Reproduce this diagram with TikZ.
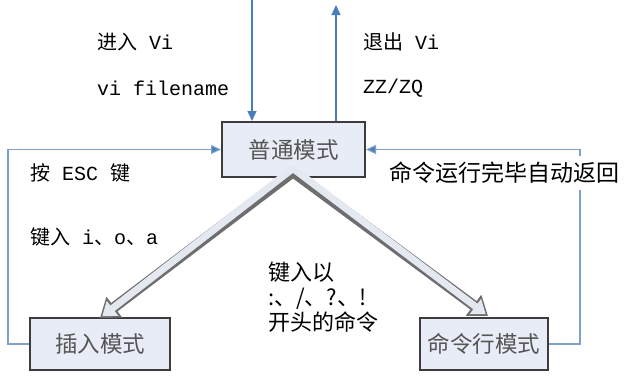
\documentclass[tikz,border=0pt]{standalone}
\usepackage{fontspec}
\setmainfont{Liberation Mono}
\newfontfamily\cjk{Noto Sans CJK SC}
\usetikzlibrary{arrows.meta}
\definecolor{boxfill}{HTML}{E8ECF6}
\definecolor{boxline}{HTML}{3C3C3C}
\definecolor{boxtext}{HTML}{555555}
\definecolor{linkblue}{HTML}{4A7EBB}
\definecolor{loopblue}{HTML}{7F9FCF}
\definecolor{dbout}{HTML}{6E6E6E}
\definecolor{dbin}{HTML}{E4E8F0}
\begin{document}
\begin{tikzpicture}[x=1pt,y=-1pt,
  modebox/.style={draw=boxline, line width=2pt, fill=boxfill, text=boxtext,
    font=\cjk\fontsize{22.5}{26}\selectfont, inner sep=0pt},
  lbl/.style={anchor=west, inner sep=0pt, font=\fontsize{20}{24}\selectfont},
  loopline/.style={draw=loopblue, line width=1.1pt, -{Triangle[length=10pt,width=9pt,fill=linkblue]}},
  bluearrow/.style={draw=linkblue, line width=1.3pt, -{Triangle[length=10pt,width=9pt]}},
  dblout/.style={draw=dbout, line width=10.5pt, -{Triangle[length=18pt,width=25pt]}},
  dblin/.style={draw=dbin, line width=7pt, shorten >=2.8pt, -{Triangle[length=13pt,width=18pt]}}
]
\useasboundingbox (0,0) rectangle (628,378);

\node[modebox, minimum width=143pt, minimum height=55pt] (n) at (293.5,149.5) {普通模式};
\node[modebox, minimum width=140pt, minimum height=52pt] (i) at (100,344) {插入模式};
\node[modebox, minimum width=128pt, minimum height=52pt] (c) at (484,344) {命令行模式};

\coordinate (tin) at (252,0);
\coordinate (tout) at (336,5);
\coordinate (lc) at (8,0);
\coordinate (rc) at (580,0);
\coordinate (apex) at (293,172);
\coordinate (itip) at (100,318);
\coordinate (ctip) at (488,316);

\draw[bluearrow] (tin) -- (tin |- n.north);
\draw[bluearrow] (tout |- n.north) -- (tout);

\draw[loopline] (i.west) -- (i.west -| lc) |- (n.west);
\draw[loopline] (c.east) -- (c.east -| rc) |- (n.east);

\draw[dblout] (apex) -- (itip);
\draw[dblout] (apex) -- (ctip);
\draw[dblin] ([yshift=3.5pt]apex) -- (itip);
\draw[dblin] ([yshift=3.5pt]apex) -- (ctip);

\node[lbl] (t1) at (97,42) {{\cjk 进入} Vi};
\node[lbl] (t2) at (97,88) {vi filename};
\node[lbl] (t3) at (363,42) {{\cjk 退出} Vi};
\node[lbl] (t4) at (363,88) {ZZ/ZQ};
\node[lbl] (t5) at (30,173) {{\cjk 按} ESC {\cjk 键}};
\node[lbl, fill=white, inner ysep=6pt, font=\cjk\fontsize{23}{26}\selectfont] (t6) at (389,173) {命令运行完毕自动返回};
\node[lbl] (t7) at (30,237) {{\cjk 键入} i{\cjk 、}o{\cjk 、}a};
\node[lbl, align=left, font=\cjk\fontsize{22}{25}\selectfont] (t8) at (268,297) {键入以\\:、/、?、!\\开头的命令};
\end{tikzpicture}
\end{document}
